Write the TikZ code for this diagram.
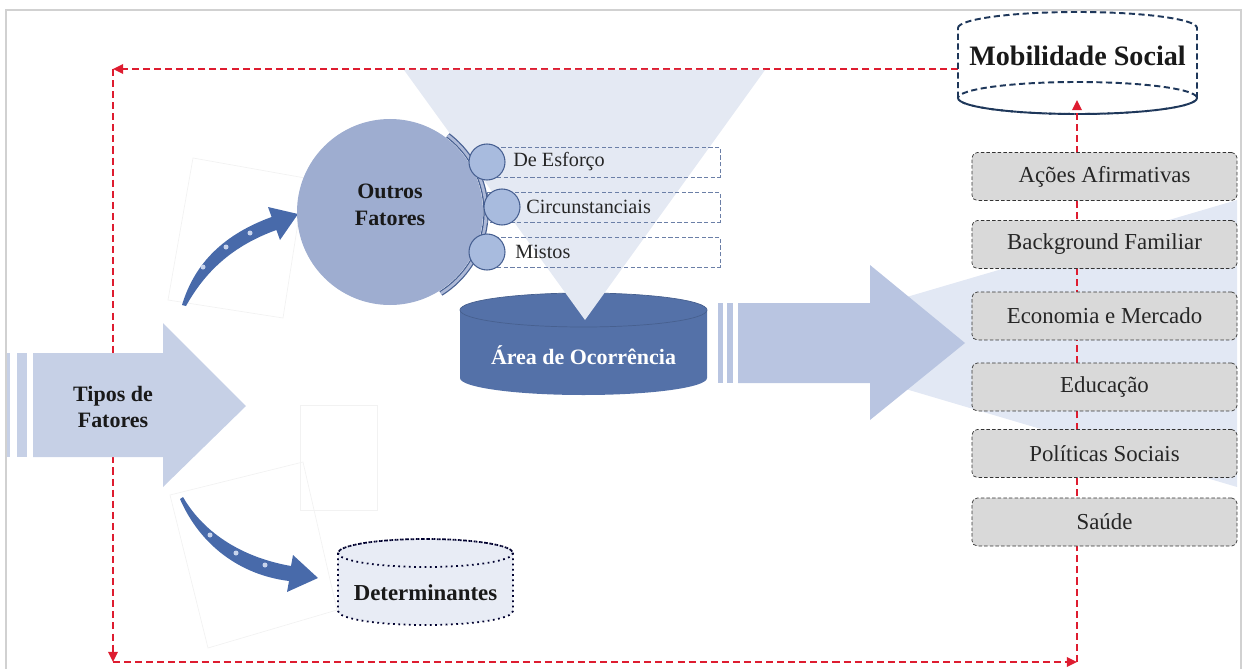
\documentclass[tikz,border=0pt]{standalone}
\usepackage{fontspec}
\setmainfont{Liberation Serif}
\usetikzlibrary{arrows.meta}

\definecolor{funnelfill}{RGB}{228,233,243}
\definecolor{wedgefill}{RGB}{226,232,244}
\definecolor{circlefill}{RGB}{158,173,208}
\definecolor{smallfill}{RGB}{168,187,222}
\definecolor{smalldraw}{RGB}{70,95,145}
\definecolor{areafill}{RGB}{84,113,168}
\definecolor{bigarrow}{RGB}{185,197,225}
\definecolor{leftarrow}{RGB}{198,208,230}
\definecolor{curvearrow}{RGB}{72,106,170}
\definecolor{dotfill}{RGB}{200,212,236}
\definecolor{boxfill}{RGB}{217,217,217}
\definecolor{detfill}{RGB}{232,236,245}
\definecolor{mobdraw}{RGB}{30,55,90}
\definecolor{loopred}{RGB}{222,28,48}

\tikzset{
  loopline/.style={loopred, line width=1.15pt, dash pattern=on 4pt off 2.3pt,
    -{Triangle[length=5.8pt,width=5.4pt]}},
  factorbox/.style={draw=black!80, fill=boxfill, dash pattern=on 2pt off 1.2pt,
    rounded corners=3pt, minimum width=5.3cm, minimum height=0.96cm,
    font=\fontsize{13}{15}\selectfont, text=black!85},
  kindbox/.style={draw=smalldraw!80, dash pattern=on 2.4pt off 1.4pt, line width=0.5pt},
  kindtext/.style={anchor=west, inner sep=0pt, font=\fontsize{11.5}{14}\selectfont, text=black!85},
  title/.style={font=\fontsize{12.5}{15}\selectfont\bfseries, align=center, text=black!90},
  faint/.style={draw=black!5, line width=0.4pt}
}

\begin{document}
\begin{tikzpicture}[x=0.02cm, y=-0.02cm]
\useasboundingbox (0,0) rectangle (1244,669);

%frame
\draw[black!18, line width=1.1pt] (6,669) -- (6,10) -- (1241,10) -- (1241,669);

%light background shapes
\fill[wedgefill] (750,343) -- (1237,200) -- (1237,487) -- cycle;
\draw[faint] (193,158) -- (305,178) -- (283,318) -- (168,300) -- cycle;
\draw[faint] (170,495) -- (303,462) -- (337,610) -- (208,648) -- cycle;
\draw[faint] (300,405) rectangle (377,510);

%red loop
\coordinate (mobW) at (958,69);
\coordinate (mobB) at (1077,100);
\coordinate (c1) at (113,69);
\coordinate (c2) at (113,662);
\coordinate (c3) at (1077,662);
\draw[loopline] (mobW) -- (c1);
\draw[loopline] (c1) -- (c2);
\draw[loopline] (c2) -- (c3);

%area de ocorrencia
\fill[areafill] (460,310) -- (460,378) arc[start angle=180, end angle=0, x radius=123.5, y radius=17]
  -- (707,310) arc[start angle=0, end angle=-180, x radius=123.5, y radius=17] -- cycle;
\draw[areafill!85!black, line width=0.4pt] (583.5,310) ellipse[x radius=123.5, y radius=17];
\node[title, text=white] (area) at (583.5,355) {Área de Ocorrência};

%funnel
\fill[funnelfill] (404,70) -- (765,70) -- (585,320) -- cycle;

%big arrow
\fill[bigarrow] (718,303) rectangle (723,383);
\fill[bigarrow] (727,303) rectangle (733,383);
\fill[bigarrow] (738,303) -- (870,303) -- (870,265) -- (965,343) -- (870,420) -- (870,383) -- (738,383) -- cycle;

%tipos de fatores
\fill[leftarrow] (7,353) rectangle (10,457);
\fill[leftarrow] (17,353) rectangle (27,457);
\fill[leftarrow] (33,353) -- (163,353) -- (163,323) -- (246,406) -- (163,487) -- (163,457) -- (33,457) -- cycle;
\node[title] (tipos) at (113,407) {Tipos de\\Fatores};

%curved arrows
\fill[curvearrow] (182,305) .. controls (195,262) and (225,234) .. (271.6,217) -- (268,207) -- (298,214)
  -- (280,240) -- (276.4,230) .. controls (232,246) and (205,272) .. (186,306) -- cycle;
\fill[curvearrow] (183,497) .. controls (205,535) and (245,558) .. (291,566) -- (293,555) -- (318,578)
  -- (287,592) -- (289,581) .. controls (240,575) and (200,545) .. (180,499) -- cycle;
\foreach \p in {(203,267),(226,247),(250,233),(210,535),(236,553),(265,565)}
  \fill[dotfill] \p circle[radius=2.5];

%outros fatores
\draw[smalldraw, line width=3pt] (390,212) ++(-53:96) arc[start angle=-53, end angle=58, radius=96];
\draw[circlefill!85!white, line width=1.6pt] (390,212) ++(-53:96) arc[start angle=-53, end angle=58, radius=96];
\fill[circlefill] (390,212) circle[radius=93];
\node[title] (outros) at (390,205) {Outros\\Fatores};
\foreach \y/\cx/\name/\txt/\tx in {162/487/esforco/De Esforço/513, 207/502/circ/Circunstanciais/526, 252/487/mistos/Mistos/515}{
  \draw[kindbox] (487,\y-15) rectangle (720,\y+15);
  \fill[smallfill, draw=smalldraw, line width=0.6pt] (\cx,\y) circle[radius=18];
  \node[kindtext] (\name) at (\tx,\y) {\txt};
}

%determinantes
\filldraw[fill=detfill, draw=black!70!blue!60!black, dotted, line width=1pt]
  (338,553) -- (338,611) arc[start angle=180, end angle=0, x radius=87.5, y radius=14]
  -- (513,553) arc[start angle=0, end angle=-180, x radius=87.5, y radius=14] -- cycle;
\draw[black!70!blue!60!black, dotted, line width=1pt] (425.5,553) ellipse[x radius=87.5, y radius=14];
\node[title, font=\fontsize{13}{15}\selectfont\bfseries] (det) at (425.5,593) {Determinantes};

%mobilidade social
\filldraw[fill=white, draw=mobdraw, line width=1.1pt, dash pattern=on 3.5pt off 2pt]
  (958,28) arc[start angle=180, end angle=360, x radius=119.5, y radius=16]
  -- (1197,98) arc[start angle=0, end angle=180, x radius=119.5, y radius=16] -- cycle;
\draw[mobdraw, line width=1.1pt, dash pattern=on 3.5pt off 2pt] (1077.5,98) ellipse[x radius=119.5, y radius=16];
\node[title, font=\fontsize{16}{18}\selectfont\bfseries] (mob) at (1077.5,56) {Mobilidade Social};
\draw[loopline] (c3) -- (mobB);

%factors
\foreach \y/\name/\txt in {176.5/acoes/Ações Afirmativas, 244.5/background/Background Familiar,
  316/economia/Economia e Mercado, 387/educacao/Educação, 453.5/politicas/Políticas Sociais, 522/saude/Saúde}
  \node[factorbox] (\name) at (1104.5,\y) {\txt};

\end{tikzpicture}
\end{document}
